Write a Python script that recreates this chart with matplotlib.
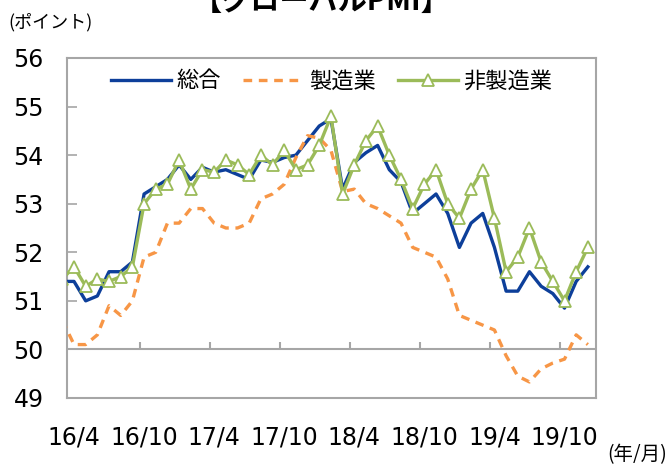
import numpy as np
import matplotlib.pyplot as plt

plt.rcParams['font.family'] = ['DejaVu Sans', 'Noto Sans CJK JP']

# months 16/3 .. 19/12 (first one sits just left of the axis)
months = [f"{16 + (m // 12)}/{m % 12 + 1}" for m in range(2, 2 + 46)]
sogo = [51.4, 51.4, 51.0, 51.1, 51.6, 51.6, 51.8, 53.2, 53.35, 53.5, 53.8,
        53.5, 53.75, 53.65, 53.7, 53.6, 53.5, 53.9, 53.85, 53.95, 54.0,
        54.3, 54.6, 54.75, 53.3, 53.85, 54.05, 54.2, 53.7, 53.45, 52.8,
        53.0, 53.2, 52.8, 52.1, 52.6, 52.8, 52.1, 51.2, 51.2, 51.6,
        51.3, 51.15, 50.85, 51.4, 51.7]
seizo = [50.6, 50.1, 50.1, 50.3, 50.9, 50.7, 51.0, 51.9, 52.0, 52.6, 52.6,
         52.9, 52.9, 52.6, 52.5, 52.5, 52.6, 53.1, 53.2, 53.4, 53.95,
         54.4, 54.35, 54.1, 53.25, 53.3, 53.0, 52.9, 52.75, 52.6, 52.1,
         52.0, 51.9, 51.45, 50.7, 50.6, 50.5, 50.4, 49.87, 49.45, 49.33,
         49.6, 49.72, 49.8, 50.3, 50.1]
hiseizo = [51.45, 51.7, 51.3, 51.45, 51.4, 51.5, 51.7, 53.0, 53.3, 53.4, 53.9,
           53.3, 53.7, 53.65, 53.9, 53.8, 53.6, 54.0, 53.8, 54.1, 53.7,
           53.8, 54.2, 54.8, 53.2, 53.8, 54.3, 54.6, 54.0, 53.5, 52.9,
           53.4, 53.7, 53.0, 52.7, 53.3, 53.7, 52.7, 51.6, 51.9, 52.5,
           51.8, 51.4, 51.0, 51.6, 52.1]
tick_labels = ["16/4", "16/10", "17/4", "17/10", "18/4", "18/10", "19/4", "19/10"]

x = np.arange(len(months)) - 1
frame = '#a6a6a6'

fig = plt.figure(figsize=(6.7, 4.65), dpi=100)
ax = fig.add_axes([0.1, 0.1441, 0.7896, 0.7312])

ax.plot(x, sogo, color='#0d3f9a', lw=2.4, label='総合', zorder=3)
ax.plot(x, seizo, color='#f79646', lw=2.4, ls=(0, (2.6, 2.0)), label='製造業', zorder=3)
ax.plot(x, hiseizo, color='#9bbb59', lw=2.4, marker='^', ms=9, mfc='white',
        mec='#9bbb59', mew=1.3, label='非製造業', zorder=4)

ax.set_xlim(-0.6, 44.7)
ax.set_ylim(49, 56)
ax.set_yticks(range(49, 57))
ax.tick_params(axis='y', direction='in', length=7, color=frame, width=1.2,
               labelsize=17, pad=17)
ax.set_xticks([months.index(t) - 1 for t in tick_labels])
ax.set_xticklabels(tick_labels)
ax.tick_params(axis='x', length=0, labelsize=17, pad=20)
for s in ax.spines.values():
    s.set_color(frame)
    s.set_linewidth(1.5)

# horizontal axis at 50 with its tick marks
ax.axhline(50, color=frame, lw=1.5, zorder=2)
ax.vlines(np.arange(6, 43, 6) - 0.35, 50, 50.16, color=frame, lw=1.5, zorder=2)

ax.legend(loc='upper center', bbox_to_anchor=(0.5, 1.025), ncol=3, frameon=False,
          handlelength=2.7, columnspacing=1.0, handletextpad=0.25,
          prop={'family': 'Noto Sans CJK JP', 'size': 16})

fig.text(0.48, 1 - 10 / 465, '【グローバルPMI】', ha='center', va='baseline',
         fontsize=21, fontweight='bold', family='Noto Sans CJK JP')
fig.text(8 / 670, 1 - 22 / 465, '(ポイント)', ha='left', va='center',
         fontsize=13, family='Noto Sans CJK JP')
fig.text(667 / 670, 1 - 455 / 465, '(年/月)', ha='right', va='center',
         fontsize=14, family='Noto Sans CJK JP')

fig.savefig('out.png', dpi=100)
